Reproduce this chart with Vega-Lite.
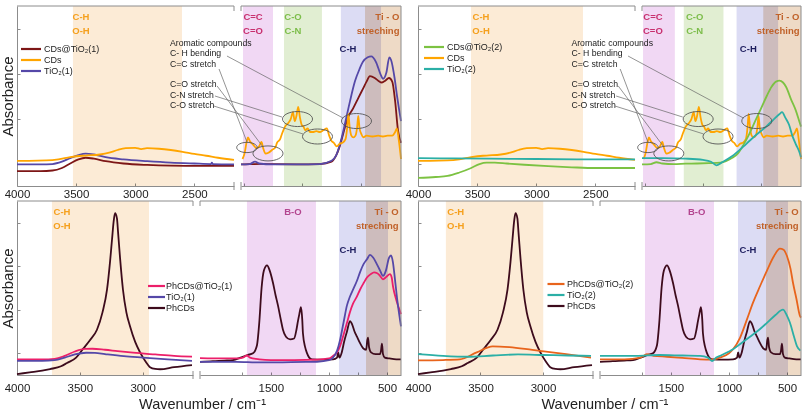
{
"$schema":"https://vega.github.io/schema/vega-lite/v6.json",
"background":"white",
"padding":{"left":0,"top":5,"right":0,"bottom":0},
"config":{"font":"Liberation Sans","view":{"stroke":null},
"axis":{"grid":false,"domainColor":"#8c8c8c","tickColor":"#8c8c8c","labelColor":"#222","labelFontSize":11.5,"titleColor":"#222","titleFontSize":15,"titleFontWeight":"normal"},
"legend":{"symbolType":"M-4,0H4","symbolSize":25,"symbolStrokeWidth":2.2,"labelFontSize":9,"labelColor":"#222","rowPadding":1,"padding":0}},
"datasets":{
"spectra":[
{"p":"TL","s":"CDs@TiO₂(1)","w":4000,"a":0.083},{"p":"TL","s":"CDs@TiO₂(1)","w":3800,"a":0.083},{"p":"TL","s":"CDs@TiO₂(1)","w":3700,"a":0.086},{"p":"TL","s":"CDs@TiO₂(1)","w":3620,"a":0.1},{"p":"TL","s":"CDs@TiO₂(1)","w":3550,"a":0.125},{"p":"TL","s":"CDs@TiO₂(1)","w":3480,"a":0.148},{"p":"TL","s":"CDs@TiO₂(1)","w":3420,"a":0.157},{"p":"TL","s":"CDs@TiO₂(1)","w":3350,"a":0.152},{"p":"TL","s":"CDs@TiO₂(1)","w":3250,"a":0.138},{"p":"TL","s":"CDs@TiO₂(1)","w":3100,"a":0.125},{"p":"TL","s":"CDs@TiO₂(1)","w":2900,"a":0.117},{"p":"TL","s":"CDs@TiO₂(1)","w":2700,"a":0.113},{"p":"TL","s":"CDs@TiO₂(1)","w":2500,"a":0.112},{"p":"TL","s":"CDs@TiO₂(1)","w":2300,"a":0.112},{"p":"TL","s":"CDs@TiO₂(1)","w":2165,"a":0.112},
{"p":"TL","s":"CDs@TiO₂(1)","w":1775,"a":0.12},{"p":"TL","s":"CDs@TiO₂(1)","w":1700,"a":0.121},{"p":"TL","s":"CDs@TiO₂(1)","w":1600,"a":0.123},{"p":"TL","s":"CDs@TiO₂(1)","w":1500,"a":0.121},{"p":"TL","s":"CDs@TiO₂(1)","w":1300,"a":0.12},{"p":"TL","s":"CDs@TiO₂(1)","w":1100,"a":0.122},{"p":"TL","s":"CDs@TiO₂(1)","w":1000,"a":0.135},{"p":"TL","s":"CDs@TiO₂(1)","w":960,"a":0.17},{"p":"TL","s":"CDs@TiO₂(1)","w":930,"a":0.22},{"p":"TL","s":"CDs@TiO₂(1)","w":900,"a":0.29},{"p":"TL","s":"CDs@TiO₂(1)","w":860,"a":0.38},{"p":"TL","s":"CDs@TiO₂(1)","w":816,"a":0.43},{"p":"TL","s":"CDs@TiO₂(1)","w":770,"a":0.49},{"p":"TL","s":"CDs@TiO₂(1)","w":731,"a":0.54},{"p":"TL","s":"CDs@TiO₂(1)","w":700,"a":0.58},{"p":"TL","s":"CDs@TiO₂(1)","w":671,"a":0.61},{"p":"TL","s":"CDs@TiO₂(1)","w":630,"a":0.6},{"p":"TL","s":"CDs@TiO₂(1)","w":600,"a":0.585},{"p":"TL","s":"CDs@TiO₂(1)","w":568,"a":0.575},{"p":"TL","s":"CDs@TiO₂(1)","w":540,"a":0.585},{"p":"TL","s":"CDs@TiO₂(1)","w":508,"a":0.6},{"p":"TL","s":"CDs@TiO₂(1)","w":480,"a":0.58},{"p":"TL","s":"CDs@TiO₂(1)","w":455,"a":0.47},{"p":"TL","s":"CDs@TiO₂(1)","w":431,"a":0.31},{"p":"TL","s":"CDs@TiO₂(1)","w":405,"a":0.24},
{"p":"TL","s":"TiO₂(1)","w":4000,"a":0.12},{"p":"TL","s":"TiO₂(1)","w":3800,"a":0.12},{"p":"TL","s":"TiO₂(1)","w":3700,"a":0.122},{"p":"TL","s":"TiO₂(1)","w":3620,"a":0.135},{"p":"TL","s":"TiO₂(1)","w":3550,"a":0.155},{"p":"TL","s":"TiO₂(1)","w":3480,"a":0.172},{"p":"TL","s":"TiO₂(1)","w":3420,"a":0.18},{"p":"TL","s":"TiO₂(1)","w":3350,"a":0.175},{"p":"TL","s":"TiO₂(1)","w":3250,"a":0.16},{"p":"TL","s":"TiO₂(1)","w":3100,"a":0.148},{"p":"TL","s":"TiO₂(1)","w":2900,"a":0.138},{"p":"TL","s":"TiO₂(1)","w":2700,"a":0.13},{"p":"TL","s":"TiO₂(1)","w":2500,"a":0.125},{"p":"TL","s":"TiO₂(1)","w":2360,"a":0.122},{"p":"TL","s":"TiO₂(1)","w":2352,"a":0.13},{"p":"TL","s":"TiO₂(1)","w":2344,"a":0.122},{"p":"TL","s":"TiO₂(1)","w":2165,"a":0.12},
{"p":"TL","s":"TiO₂(1)","w":1775,"a":0.12},{"p":"TL","s":"TiO₂(1)","w":1700,"a":0.122},{"p":"TL","s":"TiO₂(1)","w":1655,"a":0.135},{"p":"TL","s":"TiO₂(1)","w":1620,"a":0.125},{"p":"TL","s":"TiO₂(1)","w":1500,"a":0.12},{"p":"TL","s":"TiO₂(1)","w":1300,"a":0.12},{"p":"TL","s":"TiO₂(1)","w":1100,"a":0.122},{"p":"TL","s":"TiO₂(1)","w":1000,"a":0.14},{"p":"TL","s":"TiO₂(1)","w":960,"a":0.17},{"p":"TL","s":"TiO₂(1)","w":920,"a":0.25},{"p":"TL","s":"TiO₂(1)","w":880,"a":0.36},{"p":"TL","s":"TiO₂(1)","w":842,"a":0.47},{"p":"TL","s":"TiO₂(1)","w":800,"a":0.58},{"p":"TL","s":"TiO₂(1)","w":760,"a":0.65},{"p":"TL","s":"TiO₂(1)","w":731,"a":0.69},{"p":"TL","s":"TiO₂(1)","w":690,"a":0.715},{"p":"TL","s":"TiO₂(1)","w":660,"a":0.72},{"p":"TL","s":"TiO₂(1)","w":620,"a":0.69},{"p":"TL","s":"TiO₂(1)","w":580,"a":0.62},{"p":"TL","s":"TiO₂(1)","w":559,"a":0.595},{"p":"TL","s":"TiO₂(1)","w":530,"a":0.63},{"p":"TL","s":"TiO₂(1)","w":505,"a":0.715},{"p":"TL","s":"TiO₂(1)","w":490,"a":0.7},{"p":"TL","s":"TiO₂(1)","w":460,"a":0.6},{"p":"TL","s":"TiO₂(1)","w":439,"a":0.5},{"p":"TL","s":"TiO₂(1)","w":420,"a":0.42},{"p":"TL","s":"TiO₂(1)","w":405,"a":0.36},
{"p":"T","s":"CDs","w":4000,"a":0.14},{"p":"T","s":"CDs","w":3900,"a":0.14},{"p":"T","s":"CDs","w":3750,"a":0.142},{"p":"T","s":"CDs","w":3650,"a":0.148},{"p":"T","s":"CDs","w":3550,"a":0.16},{"p":"T","s":"CDs","w":3450,"a":0.168},{"p":"T","s":"CDs","w":3400,"a":0.17},{"p":"T","s":"CDs","w":3300,"a":0.175},{"p":"T","s":"CDs","w":3220,"a":0.185},{"p":"T","s":"CDs","w":3150,"a":0.2},{"p":"T","s":"CDs","w":3080,"a":0.21},{"p":"T","s":"CDs","w":3000,"a":0.212},{"p":"T","s":"CDs","w":2950,"a":0.205},{"p":"T","s":"CDs","w":2900,"a":0.21},{"p":"T","s":"CDs","w":2800,"a":0.207},{"p":"T","s":"CDs","w":2700,"a":0.2},{"p":"T","s":"CDs","w":2600,"a":0.19},{"p":"T","s":"CDs","w":2500,"a":0.178},{"p":"T","s":"CDs","w":2400,"a":0.168},{"p":"T","s":"CDs","w":2300,"a":0.157},{"p":"T","s":"CDs","w":2165,"a":0.145},
{"p":"T","s":"CDs","w":1762,"a":0.15},{"p":"T","s":"CDs","w":1745,"a":0.18},{"p":"T","s":"CDs","w":1725,"a":0.25},{"p":"T","s":"CDs","w":1715,"a":0.27},{"p":"T","s":"CDs","w":1700,"a":0.25},{"p":"T","s":"CDs","w":1672,"a":0.23},{"p":"T","s":"CDs","w":1640,"a":0.21},{"p":"T","s":"CDs","w":1620,"a":0.22},{"p":"T","s":"CDs","w":1600,"a":0.245},{"p":"T","s":"CDs","w":1585,"a":0.21},{"p":"T","s":"CDs","w":1565,"a":0.18},{"p":"T","s":"CDs","w":1540,"a":0.185},{"p":"T","s":"CDs","w":1510,"a":0.2},{"p":"T","s":"CDs","w":1480,"a":0.215},{"p":"T","s":"CDs","w":1467,"a":0.24},{"p":"T","s":"CDs","w":1440,"a":0.26},{"p":"T","s":"CDs","w":1424,"a":0.29},{"p":"T","s":"CDs","w":1398,"a":0.33},{"p":"T","s":"CDs","w":1370,"a":0.35},{"p":"T","s":"CDs","w":1350,"a":0.37},{"p":"T","s":"CDs","w":1330,"a":0.41},{"p":"T","s":"CDs","w":1315,"a":0.36},{"p":"T","s":"CDs","w":1300,"a":0.39},{"p":"T","s":"CDs","w":1285,"a":0.44},{"p":"T","s":"CDs","w":1270,"a":0.38},{"p":"T","s":"CDs","w":1255,"a":0.34},{"p":"T","s":"CDs","w":1240,"a":0.33},{"p":"T","s":"CDs","w":1225,"a":0.31},{"p":"T","s":"CDs","w":1205,"a":0.32},{"p":"T","s":"CDs","w":1185,"a":0.3},{"p":"T","s":"CDs","w":1160,"a":0.3},{"p":"T","s":"CDs","w":1130,"a":0.305},{"p":"T","s":"CDs","w":1100,"a":0.3},{"p":"T","s":"CDs","w":1070,"a":0.31},{"p":"T","s":"CDs","w":1040,"a":0.32},{"p":"T","s":"CDs","w":1020,"a":0.28},{"p":"T","s":"CDs","w":1000,"a":0.25},{"p":"T","s":"CDs","w":980,"a":0.24},{"p":"T","s":"CDs","w":955,"a":0.22},{"p":"T","s":"CDs","w":930,"a":0.235},{"p":"T","s":"CDs","w":905,"a":0.24},{"p":"T","s":"CDs","w":880,"a":0.26},{"p":"T","s":"CDs","w":865,"a":0.33},{"p":"T","s":"CDs","w":856,"a":0.4},{"p":"T","s":"CDs","w":845,"a":0.33},{"p":"T","s":"CDs","w":830,"a":0.28},{"p":"T","s":"CDs","w":813,"a":0.27},{"p":"T","s":"CDs","w":795,"a":0.28},{"p":"T","s":"CDs","w":780,"a":0.33},{"p":"T","s":"CDs","w":771,"a":0.39},{"p":"T","s":"CDs","w":760,"a":0.32},{"p":"T","s":"CDs","w":745,"a":0.29},{"p":"T","s":"CDs","w":728,"a":0.27},{"p":"T","s":"CDs","w":700,"a":0.28},{"p":"T","s":"CDs","w":650,"a":0.275},{"p":"T","s":"CDs","w":600,"a":0.28},{"p":"T","s":"CDs","w":560,"a":0.275},{"p":"T","s":"CDs","w":520,"a":0.28},{"p":"T","s":"CDs","w":480,"a":0.28},{"p":"T","s":"CDs","w":455,"a":0.3},{"p":"T","s":"CDs","w":440,"a":0.32},{"p":"T","s":"CDs","w":425,"a":0.26},{"p":"T","s":"CDs","w":410,"a":0.18},{"p":"T","s":"CDs","w":405,"a":0.15},
{"p":"TR","s":"CDs@TiO₂(2)","w":4000,"a":0.045},{"p":"TR","s":"CDs@TiO₂(2)","w":3850,"a":0.05},{"p":"TR","s":"CDs@TiO₂(2)","w":3750,"a":0.056},{"p":"TR","s":"CDs@TiO₂(2)","w":3650,"a":0.075},{"p":"TR","s":"CDs@TiO₂(2)","w":3550,"a":0.1},{"p":"TR","s":"CDs@TiO₂(2)","w":3480,"a":0.122},{"p":"TR","s":"CDs@TiO₂(2)","w":3420,"a":0.13},{"p":"TR","s":"CDs@TiO₂(2)","w":3350,"a":0.13},{"p":"TR","s":"CDs@TiO₂(2)","w":3250,"a":0.125},{"p":"TR","s":"CDs@TiO₂(2)","w":3100,"a":0.118},{"p":"TR","s":"CDs@TiO₂(2)","w":2900,"a":0.11},{"p":"TR","s":"CDs@TiO₂(2)","w":2700,"a":0.104},{"p":"TR","s":"CDs@TiO₂(2)","w":2500,"a":0.1},{"p":"TR","s":"CDs@TiO₂(2)","w":2300,"a":0.1},{"p":"TR","s":"CDs@TiO₂(2)","w":2165,"a":0.1},
{"p":"TR","s":"CDs@TiO₂(2)","w":1775,"a":0.12},{"p":"TR","s":"CDs@TiO₂(2)","w":1700,"a":0.122},{"p":"TR","s":"CDs@TiO₂(2)","w":1650,"a":0.132},{"p":"TR","s":"CDs@TiO₂(2)","w":1600,"a":0.125},{"p":"TR","s":"CDs@TiO₂(2)","w":1500,"a":0.122},{"p":"TR","s":"CDs@TiO₂(2)","w":1400,"a":0.124},{"p":"TR","s":"CDs@TiO₂(2)","w":1300,"a":0.125},{"p":"TR","s":"CDs@TiO₂(2)","w":1200,"a":0.127},{"p":"TR","s":"CDs@TiO₂(2)","w":1100,"a":0.13},{"p":"TR","s":"CDs@TiO₂(2)","w":1000,"a":0.155},{"p":"TR","s":"CDs@TiO₂(2)","w":950,"a":0.18},{"p":"TR","s":"CDs@TiO₂(2)","w":900,"a":0.23},{"p":"TR","s":"CDs@TiO₂(2)","w":850,"a":0.29},{"p":"TR","s":"CDs@TiO₂(2)","w":800,"a":0.36},{"p":"TR","s":"CDs@TiO₂(2)","w":750,"a":0.43},{"p":"TR","s":"CDs@TiO₂(2)","w":700,"a":0.5},{"p":"TR","s":"CDs@TiO₂(2)","w":660,"a":0.55},{"p":"TR","s":"CDs@TiO₂(2)","w":620,"a":0.58},{"p":"TR","s":"CDs@TiO₂(2)","w":590,"a":0.585},{"p":"TR","s":"CDs@TiO₂(2)","w":560,"a":0.575},{"p":"TR","s":"CDs@TiO₂(2)","w":533,"a":0.55},{"p":"TR","s":"CDs@TiO₂(2)","w":490,"a":0.48},{"p":"TR","s":"CDs@TiO₂(2)","w":450,"a":0.42},{"p":"TR","s":"CDs@TiO₂(2)","w":420,"a":0.36},{"p":"TR","s":"CDs@TiO₂(2)","w":405,"a":0.33},
{"p":"TR","s":"TiO₂(2)","w":4000,"a":0.155},{"p":"TR","s":"TiO₂(2)","w":3700,"a":0.153},{"p":"TR","s":"TiO₂(2)","w":3400,"a":0.152},{"p":"TR","s":"TiO₂(2)","w":3000,"a":0.15},{"p":"TR","s":"TiO₂(2)","w":2600,"a":0.148},{"p":"TR","s":"TiO₂(2)","w":2165,"a":0.148},
{"p":"TR","s":"TiO₂(2)","w":1775,"a":0.155},{"p":"TR","s":"TiO₂(2)","w":1600,"a":0.155},{"p":"TR","s":"TiO₂(2)","w":1400,"a":0.152},{"p":"TR","s":"TiO₂(2)","w":1250,"a":0.145},{"p":"TR","s":"TiO₂(2)","w":1180,"a":0.135},{"p":"TR","s":"TiO₂(2)","w":1133,"a":0.115},{"p":"TR","s":"TiO₂(2)","w":1090,"a":0.13},{"p":"TR","s":"TiO₂(2)","w":1000,"a":0.165},{"p":"TR","s":"TiO₂(2)","w":900,"a":0.22},{"p":"TR","s":"TiO₂(2)","w":850,"a":0.25},{"p":"TR","s":"TiO₂(2)","w":780,"a":0.29},{"p":"TR","s":"TiO₂(2)","w":705,"a":0.33},{"p":"TR","s":"TiO₂(2)","w":640,"a":0.37},{"p":"TR","s":"TiO₂(2)","w":590,"a":0.4},{"p":"TR","s":"TiO₂(2)","w":568,"a":0.41},{"p":"TR","s":"TiO₂(2)","w":540,"a":0.38},{"p":"TR","s":"TiO₂(2)","w":508,"a":0.34},{"p":"TR","s":"TiO₂(2)","w":480,"a":0.28},{"p":"TR","s":"TiO₂(2)","w":448,"a":0.23},{"p":"TR","s":"TiO₂(2)","w":420,"a":0.19},{"p":"TR","s":"TiO₂(2)","w":405,"a":0.16},
{"p":"B","s":"PhCDs","w":4000,"a":0.005},{"p":"B","s":"PhCDs","w":3900,"a":0.015},{"p":"B","s":"PhCDs","w":3800,"a":0.025},{"p":"B","s":"PhCDs","w":3737,"a":0.034},{"p":"B","s":"PhCDs","w":3650,"a":0.05},{"p":"B","s":"PhCDs","w":3602,"a":0.069},{"p":"B","s":"PhCDs","w":3530,"a":0.1},{"p":"B","s":"PhCDs","w":3475,"a":0.15},{"p":"B","s":"PhCDs","w":3420,"a":0.2},{"p":"B","s":"PhCDs","w":3364,"a":0.26},{"p":"B","s":"PhCDs","w":3320,"a":0.36},{"p":"B","s":"PhCDs","w":3284,"a":0.49},{"p":"B","s":"PhCDs","w":3260,"a":0.65},{"p":"B","s":"PhCDs","w":3244,"a":0.78},{"p":"B","s":"PhCDs","w":3230,"a":0.89},{"p":"B","s":"PhCDs","w":3220,"a":0.93},{"p":"B","s":"PhCDs","w":3205,"a":0.9},{"p":"B","s":"PhCDs","w":3196,"a":0.82},{"p":"B","s":"PhCDs","w":3180,"a":0.67},{"p":"B","s":"PhCDs","w":3157,"a":0.49},{"p":"B","s":"PhCDs","w":3130,"a":0.36},{"p":"B","s":"PhCDs","w":3101,"a":0.28},{"p":"B","s":"PhCDs","w":3060,"a":0.19},{"p":"B","s":"PhCDs","w":3021,"a":0.13},{"p":"B","s":"PhCDs","w":2980,"a":0.08},{"p":"B","s":"PhCDs","w":2942,"a":0.045},{"p":"B","s":"PhCDs","w":2900,"a":0.035},{"p":"B","s":"PhCDs","w":2862,"a":0.033},{"p":"B","s":"PhCDs","w":2750,"a":0.045},{"p":"B","s":"PhCDs","w":2608,"a":0.057},
{"p":"B","s":"PhCDs","w":2110,"a":0.075},{"p":"B","s":"PhCDs","w":2000,"a":0.08},{"p":"B","s":"PhCDs","w":1900,"a":0.083},{"p":"B","s":"PhCDs","w":1826,"a":0.086},{"p":"B","s":"PhCDs","w":1760,"a":0.1},{"p":"B","s":"PhCDs","w":1700,"a":0.115},{"p":"B","s":"PhCDs","w":1654,"a":0.125},{"p":"B","s":"PhCDs","w":1620,"a":0.17},{"p":"B","s":"PhCDs","w":1600,"a":0.3},{"p":"B","s":"PhCDs","w":1580,"a":0.5},{"p":"B","s":"PhCDs","w":1560,"a":0.6},{"p":"B","s":"PhCDs","w":1533,"a":0.63},{"p":"B","s":"PhCDs","w":1510,"a":0.6},{"p":"B","s":"PhCDs","w":1482,"a":0.53},{"p":"B","s":"PhCDs","w":1460,"a":0.46},{"p":"B","s":"PhCDs","w":1439,"a":0.4},{"p":"B","s":"PhCDs","w":1415,"a":0.32},{"p":"B","s":"PhCDs","w":1396,"a":0.26},{"p":"B","s":"PhCDs","w":1370,"a":0.22},{"p":"B","s":"PhCDs","w":1335,"a":0.205},{"p":"B","s":"PhCDs","w":1300,"a":0.21},{"p":"B","s":"PhCDs","w":1280,"a":0.26},{"p":"B","s":"PhCDs","w":1267,"a":0.31},{"p":"B","s":"PhCDs","w":1255,"a":0.35},{"p":"B","s":"PhCDs","w":1241,"a":0.39},{"p":"B","s":"PhCDs","w":1230,"a":0.32},{"p":"B","s":"PhCDs","w":1224,"a":0.24},{"p":"B","s":"PhCDs","w":1205,"a":0.16},{"p":"B","s":"PhCDs","w":1190,"a":0.127},{"p":"B","s":"PhCDs","w":1170,"a":0.1},{"p":"B","s":"PhCDs","w":1146,"a":0.09},{"p":"B","s":"PhCDs","w":1050,"a":0.088},{"p":"B","s":"PhCDs","w":965,"a":0.09},{"p":"B","s":"PhCDs","w":930,"a":0.1},{"p":"B","s":"PhCDs","w":921,"a":0.13},{"p":"B","s":"PhCDs","w":910,"a":0.1},{"p":"B","s":"PhCDs","w":890,"a":0.13},{"p":"B","s":"PhCDs","w":870,"a":0.19},{"p":"B","s":"PhCDs","w":845,"a":0.25},{"p":"B","s":"PhCDs","w":819,"a":0.31},{"p":"B","s":"PhCDs","w":800,"a":0.29},{"p":"B","s":"PhCDs","w":780,"a":0.25},{"p":"B","s":"PhCDs","w":759,"a":0.22},{"p":"B","s":"PhCDs","w":730,"a":0.18},{"p":"B","s":"PhCDs","w":707,"a":0.155},{"p":"B","s":"PhCDs","w":680,"a":0.145},{"p":"B","s":"PhCDs","w":670,"a":0.2},{"p":"B","s":"PhCDs","w":664,"a":0.215},{"p":"B","s":"PhCDs","w":655,"a":0.16},{"p":"B","s":"PhCDs","w":638,"a":0.13},{"p":"B","s":"PhCDs","w":600,"a":0.12},{"p":"B","s":"PhCDs","w":561,"a":0.12},{"p":"B","s":"PhCDs","w":552,"a":0.14},{"p":"B","s":"PhCDs","w":544,"a":0.18},{"p":"B","s":"PhCDs","w":535,"a":0.12},{"p":"B","s":"PhCDs","w":520,"a":0.1},{"p":"B","s":"PhCDs","w":480,"a":0.095},{"p":"B","s":"PhCDs","w":420,"a":0.09},{"p":"B","s":"PhCDs","w":380,"a":0.09},
{"p":"BL","s":"PhCDs@TiO₂(1)","w":4000,"a":0.09},{"p":"BL","s":"PhCDs@TiO₂(1)","w":3800,"a":0.09},{"p":"BL","s":"PhCDs@TiO₂(1)","w":3700,"a":0.093},{"p":"BL","s":"PhCDs@TiO₂(1)","w":3620,"a":0.11},{"p":"BL","s":"PhCDs@TiO₂(1)","w":3540,"a":0.135},{"p":"BL","s":"PhCDs@TiO₂(1)","w":3460,"a":0.15},{"p":"BL","s":"PhCDs@TiO₂(1)","w":3400,"a":0.151},{"p":"BL","s":"PhCDs@TiO₂(1)","w":3300,"a":0.145},{"p":"BL","s":"PhCDs@TiO₂(1)","w":3200,"a":0.137},{"p":"BL","s":"PhCDs@TiO₂(1)","w":3077,"a":0.128},{"p":"BL","s":"PhCDs@TiO₂(1)","w":2900,"a":0.118},{"p":"BL","s":"PhCDs@TiO₂(1)","w":2750,"a":0.11},{"p":"BL","s":"PhCDs@TiO₂(1)","w":2608,"a":0.105},
{"p":"BL","s":"PhCDs@TiO₂(1)","w":2110,"a":0.097},{"p":"BL","s":"PhCDs@TiO₂(1)","w":1900,"a":0.095},{"p":"BL","s":"PhCDs@TiO₂(1)","w":1800,"a":0.095},{"p":"BL","s":"PhCDs@TiO₂(1)","w":1740,"a":0.1},{"p":"BL","s":"PhCDs@TiO₂(1)","w":1706,"a":0.112},{"p":"BL","s":"PhCDs@TiO₂(1)","w":1680,"a":0.1},{"p":"BL","s":"PhCDs@TiO₂(1)","w":1600,"a":0.09},{"p":"BL","s":"PhCDs@TiO₂(1)","w":1500,"a":0.086},{"p":"BL","s":"PhCDs@TiO₂(1)","w":1300,"a":0.086},{"p":"BL","s":"PhCDs@TiO₂(1)","w":1103,"a":0.088},{"p":"BL","s":"PhCDs@TiO₂(1)","w":1000,"a":0.095},{"p":"BL","s":"PhCDs@TiO₂(1)","w":965,"a":0.11},{"p":"BL","s":"PhCDs@TiO₂(1)","w":930,"a":0.13},{"p":"BL","s":"PhCDs@TiO₂(1)","w":905,"a":0.166},{"p":"BL","s":"PhCDs@TiO₂(1)","w":875,"a":0.23},{"p":"BL","s":"PhCDs@TiO₂(1)","w":845,"a":0.3},{"p":"BL","s":"PhCDs@TiO₂(1)","w":820,"a":0.36},{"p":"BL","s":"PhCDs@TiO₂(1)","w":793,"a":0.41},{"p":"BL","s":"PhCDs@TiO₂(1)","w":760,"a":0.45},{"p":"BL","s":"PhCDs@TiO₂(1)","w":733,"a":0.49},{"p":"BL","s":"PhCDs@TiO₂(1)","w":700,"a":0.53},{"p":"BL","s":"PhCDs@TiO₂(1)","w":673,"a":0.56},{"p":"BL","s":"PhCDs@TiO₂(1)","w":640,"a":0.58},{"p":"BL","s":"PhCDs@TiO₂(1)","w":612,"a":0.59},{"p":"BL","s":"PhCDs@TiO₂(1)","w":585,"a":0.585},{"p":"BL","s":"PhCDs@TiO₂(1)","w":561,"a":0.57},{"p":"BL","s":"PhCDs@TiO₂(1)","w":535,"a":0.55},{"p":"BL","s":"PhCDs@TiO₂(1)","w":505,"a":0.565},{"p":"BL","s":"PhCDs@TiO₂(1)","w":475,"a":0.58},{"p":"BL","s":"PhCDs@TiO₂(1)","w":460,"a":0.56},{"p":"BL","s":"PhCDs@TiO₂(1)","w":449,"a":0.51},{"p":"BL","s":"PhCDs@TiO₂(1)","w":420,"a":0.43},{"p":"BL","s":"PhCDs@TiO₂(1)","w":380,"a":0.35},
{"p":"BL","s":"TiO₂(1)","w":4000,"a":0.081},{"p":"BL","s":"TiO₂(1)","w":3800,"a":0.081},{"p":"BL","s":"TiO₂(1)","w":3700,"a":0.085},{"p":"BL","s":"TiO₂(1)","w":3620,"a":0.1},{"p":"BL","s":"TiO₂(1)","w":3540,"a":0.118},{"p":"BL","s":"TiO₂(1)","w":3450,"a":0.128},{"p":"BL","s":"TiO₂(1)","w":3380,"a":0.127},{"p":"BL","s":"TiO₂(1)","w":3300,"a":0.12},{"p":"BL","s":"TiO₂(1)","w":3150,"a":0.108},{"p":"BL","s":"TiO₂(1)","w":3000,"a":0.1},{"p":"BL","s":"TiO₂(1)","w":2800,"a":0.09},{"p":"BL","s":"TiO₂(1)","w":2608,"a":0.081},
{"p":"BL","s":"TiO₂(1)","w":2110,"a":0.075},{"p":"BL","s":"TiO₂(1)","w":1800,"a":0.076},{"p":"BL","s":"TiO₂(1)","w":1600,"a":0.072},{"p":"BL","s":"TiO₂(1)","w":1400,"a":0.073},{"p":"BL","s":"TiO₂(1)","w":1200,"a":0.075},{"p":"BL","s":"TiO₂(1)","w":1103,"a":0.076},{"p":"BL","s":"TiO₂(1)","w":1000,"a":0.085},{"p":"BL","s":"TiO₂(1)","w":965,"a":0.1},{"p":"BL","s":"TiO₂(1)","w":930,"a":0.14},{"p":"BL","s":"TiO₂(1)","w":905,"a":0.2},{"p":"BL","s":"TiO₂(1)","w":875,"a":0.3},{"p":"BL","s":"TiO₂(1)","w":845,"a":0.4},{"p":"BL","s":"TiO₂(1)","w":820,"a":0.45},{"p":"BL","s":"TiO₂(1)","w":793,"a":0.49},{"p":"BL","s":"TiO₂(1)","w":760,"a":0.54},{"p":"BL","s":"TiO₂(1)","w":733,"a":0.59},{"p":"BL","s":"TiO₂(1)","w":700,"a":0.64},{"p":"BL","s":"TiO₂(1)","w":673,"a":0.665},{"p":"BL","s":"TiO₂(1)","w":647,"a":0.69},{"p":"BL","s":"TiO₂(1)","w":620,"a":0.675},{"p":"BL","s":"TiO₂(1)","w":587,"a":0.636},{"p":"BL","s":"TiO₂(1)","w":560,"a":0.6},{"p":"BL","s":"TiO₂(1)","w":535,"a":0.57},{"p":"BL","s":"TiO₂(1)","w":510,"a":0.6},{"p":"BL","s":"TiO₂(1)","w":485,"a":0.67},{"p":"BL","s":"TiO₂(1)","w":466,"a":0.688},{"p":"BL","s":"TiO₂(1)","w":450,"a":0.65},{"p":"BL","s":"TiO₂(1)","w":432,"a":0.55},{"p":"BL","s":"TiO₂(1)","w":410,"a":0.42},{"p":"BL","s":"TiO₂(1)","w":380,"a":0.28},
{"p":"BR","s":"PhCDs@TiO₂(2)","w":4000,"a":0.084},{"p":"BR","s":"PhCDs@TiO₂(2)","w":3800,"a":0.086},{"p":"BR","s":"PhCDs@TiO₂(2)","w":3666,"a":0.09},{"p":"BR","s":"PhCDs@TiO₂(2)","w":3530,"a":0.13},{"p":"BR","s":"PhCDs@TiO₂(2)","w":3403,"a":0.165},{"p":"BR","s":"PhCDs@TiO₂(2)","w":3268,"a":0.16},{"p":"BR","s":"PhCDs@TiO₂(2)","w":3085,"a":0.144},{"p":"BR","s":"PhCDs@TiO₂(2)","w":2815,"a":0.12},{"p":"BR","s":"PhCDs@TiO₂(2)","w":2616,"a":0.1},
{"p":"BR","s":"PhCDs@TiO₂(2)","w":2110,"a":0.09},{"p":"BR","s":"PhCDs@TiO₂(2)","w":1900,"a":0.09},{"p":"BR","s":"PhCDs@TiO₂(2)","w":1760,"a":0.1},{"p":"BR","s":"PhCDs@TiO₂(2)","w":1706,"a":0.12},{"p":"BR","s":"PhCDs@TiO₂(2)","w":1650,"a":0.11},{"p":"BR","s":"PhCDs@TiO₂(2)","w":1533,"a":0.105},{"p":"BR","s":"PhCDs@TiO₂(2)","w":1400,"a":0.098},{"p":"BR","s":"PhCDs@TiO₂(2)","w":1249,"a":0.09},{"p":"BR","s":"PhCDs@TiO₂(2)","w":1150,"a":0.088},{"p":"BR","s":"PhCDs@TiO₂(2)","w":1077,"a":0.1},{"p":"BR","s":"PhCDs@TiO₂(2)","w":1000,"a":0.125},{"p":"BR","s":"PhCDs@TiO₂(2)","w":965,"a":0.148},{"p":"BR","s":"PhCDs@TiO₂(2)","w":905,"a":0.214},{"p":"BR","s":"PhCDs@TiO₂(2)","w":845,"a":0.32},{"p":"BR","s":"PhCDs@TiO₂(2)","w":793,"a":0.416},{"p":"BR","s":"PhCDs@TiO₂(2)","w":733,"a":0.51},{"p":"BR","s":"PhCDs@TiO₂(2)","w":673,"a":0.6},{"p":"BR","s":"PhCDs@TiO₂(2)","w":612,"a":0.684},{"p":"BR","s":"PhCDs@TiO₂(2)","w":561,"a":0.726},{"p":"BR","s":"PhCDs@TiO₂(2)","w":530,"a":0.72},{"p":"BR","s":"PhCDs@TiO₂(2)","w":501,"a":0.684},{"p":"BR","s":"PhCDs@TiO₂(2)","w":470,"a":0.61},{"p":"BR","s":"PhCDs@TiO₂(2)","w":449,"a":0.53},{"p":"BR","s":"PhCDs@TiO₂(2)","w":420,"a":0.44},{"p":"BR","s":"PhCDs@TiO₂(2)","w":389,"a":0.34},{"p":"BR","s":"PhCDs@TiO₂(2)","w":380,"a":0.33},
{"p":"BR","s":"TiO₂(2)","w":4000,"a":0.12},{"p":"BR","s":"TiO₂(2)","w":3800,"a":0.11},{"p":"BR","s":"TiO₂(2)","w":3600,"a":0.105},{"p":"BR","s":"TiO₂(2)","w":3400,"a":0.112},{"p":"BR","s":"TiO₂(2)","w":3200,"a":0.118},{"p":"BR","s":"TiO₂(2)","w":3000,"a":0.115},{"p":"BR","s":"TiO₂(2)","w":2800,"a":0.112},{"p":"BR","s":"TiO₂(2)","w":2616,"a":0.11},
{"p":"BR","s":"TiO₂(2)","w":2110,"a":0.11},{"p":"BR","s":"TiO₂(2)","w":1800,"a":0.11},{"p":"BR","s":"TiO₂(2)","w":1600,"a":0.115},{"p":"BR","s":"TiO₂(2)","w":1400,"a":0.112},{"p":"BR","s":"TiO₂(2)","w":1249,"a":0.11},{"p":"BR","s":"TiO₂(2)","w":1180,"a":0.1},{"p":"BR","s":"TiO₂(2)","w":1146,"a":0.08},{"p":"BR","s":"TiO₂(2)","w":1110,"a":0.1},{"p":"BR","s":"TiO₂(2)","w":1077,"a":0.11},{"p":"BR","s":"TiO₂(2)","w":1000,"a":0.135},{"p":"BR","s":"TiO₂(2)","w":965,"a":0.148},{"p":"BR","s":"TiO₂(2)","w":900,"a":0.18},{"p":"BR","s":"TiO₂(2)","w":819,"a":0.22},{"p":"BR","s":"TiO₂(2)","w":740,"a":0.26},{"p":"BR","s":"TiO₂(2)","w":673,"a":0.3},{"p":"BR","s":"TiO₂(2)","w":600,"a":0.345},{"p":"BR","s":"TiO₂(2)","w":535,"a":0.376},{"p":"BR","s":"TiO₂(2)","w":500,"a":0.34},{"p":"BR","s":"TiO₂(2)","w":475,"a":0.3},{"p":"BR","s":"TiO₂(2)","w":440,"a":0.22},{"p":"BR","s":"TiO₂(2)","w":415,"a":0.166},{"p":"BR","s":"TiO₂(2)","w":385,"a":0.14}
],
"bands":[
{"p":"TL","k":"CHOH","x1":3527,"x2":2605},{"p":"TL","k":"CC","x1":1758,"x2":1501},{"p":"TL","k":"CO","x1":1407,"x2":1082},{"p":"TL","k":"CH","x1":920,"x2":576},{"p":"TL","k":"TiO","x1":713,"x2":405},
{"p":"TR","k":"CHOH","x1":3552,"x2":2605},{"p":"TR","k":"CC","x1":1766,"x2":1492},{"p":"TR","k":"CO","x1":1415,"x2":1073},{"p":"TR","k":"CH","x1":960,"x2":602},{"p":"TR","k":"TiO","x1":730,"x2":405},
{"p":"BL","k":"CHOH","x1":3722,"x2":2950},{"p":"BL","k":"BO","x1":1706,"x2":1112},{"p":"BL","k":"CH","x1":914,"x2":492},{"p":"BL","k":"TiO","x1":681,"x2":380},
{"p":"BR","k":"CHOH","x1":3777,"x2":2998},{"p":"BR","k":"BO","x1":1723,"x2":1129},{"p":"BR","k":"CH","x1":922,"x2":492},{"p":"BR","k":"TiO","x1":681,"x2":380}
],
"bandtext":[
{"p":"TL","k":"CHOH","t":"C-H\nO-H","w":3459,"v":0.925},{"p":"TL","k":"CC","t":"C=C\nC=O","w":1672,"v":0.925},{"p":"TL","k":"CO","t":"C-O\nC-N","w":1330,"v":0.925},{"p":"TL","k":"CH","t":"C-H","w":859,"v":0.747},{"p":"TL","k":"TiO","t":"Ti - O\nstreching","w":418,"v":0.925},
{"p":"TR","k":"CHOH","t":"C-H\nO-H","w":3467,"v":0.925},{"p":"TR","k":"CC","t":"C=C\nC=O","w":1681,"v":0.925},{"p":"TR","k":"CO","t":"C-O\nC-N","w":1321,"v":0.925},{"p":"TR","k":"CH","t":"C-H","w":859,"v":0.742},{"p":"TR","k":"TiO","t":"Ti - O\nstreching","w":418,"v":0.925},
{"p":"BL","k":"CHOH","t":"C-H\nO-H","w":3642,"v":0.917},{"p":"BL","k":"BO","t":"B-O","w":1310,"v":0.917},{"p":"BL","k":"CH","t":"C-H","w":836,"v":0.704},{"p":"BL","k":"TiO","t":"Ti - O\nstreching","w":400,"v":0.917},
{"p":"BR","k":"CHOH","t":"C-H\nO-H","w":3698,"v":0.917},{"p":"BR","k":"BO","t":"B-O","w":1278,"v":0.917},{"p":"BR","k":"CH","t":"C-H","w":836,"v":0.7},{"p":"BR","k":"TiO","t":"Ti - O\nstreching","w":400,"v":0.917}
],
"ell":[{"w":1724,"v":0.214,"z":"s"},{"w":1544,"v":0.181,"z":"b"},{"w":1291,"v":0.372,"z":"b"},{"w":1120,"v":0.275,"z":"b"},{"w":786,"v":0.361,"z":"b"}],
"cal":[{"x1":1895,"y1":0.722,"x2":902,"y2":0.378},{"x1":1963,"y1":0.65,"x2":1724,"y2":0.244},{"x1":1980,"y1":0.556,"x2":1587,"y2":0.217},{"x1":1998,"y1":0.5,"x2":1424,"y2":0.383},{"x1":2006,"y1":0.444,"x2":1244,"y2":0.289}],
"notes":[{"t":"Aromatic compounds\nC- H bending\nC=C stretch","w":2383,"v":0.778},{"t":"C=O stretch\nC-N stretch\nC-O stretch","w":2383,"v":0.55}]
},
"vconcat":[
{"hconcat":[
 {"hconcat":[
  {"width":217,"height":180,"layer":[
   {"data":{"name":"bands"},"transform":[{"filter":"datum.p=='TL'&&datum.k=='CHOH'"}],"mark":{"type":"rect","blend":"multiply"},"encoding":{"x":{"field":"x1","type":"quantitative"},"x2":{"field":"x2"},"y":{"value":0},"y2":{"value":"height"},"fill":{"field":"k","type":"nominal","scale":{"domain":["CHOH","CC","CO","CH","TiO","BO"],"range":["#fcebd6","#f1d8f4","#e1eed2","#dcdcf4","#eedac6","#f1d8f4"]},"legend":null}}},
   {"data":{"name":"bandtext"},"transform":[{"filter":"datum.p=='TL'&&datum.k=='CHOH'"}],"mark":{"type":"text","fontWeight":"bold","fontSize":9.5,"lineBreak":"\n","lineHeight":14,"align":"center","baseline":"alphabetic","color":"#f5a01e"},"encoding":{"x":{"field":"w","type":"quantitative"},"y":{"field":"v","type":"quantitative"},"text":{"field":"t"}}},
   {"data":{"name":"spectra"},"transform":[{"filter":"(datum.p=='TL'||datum.p=='T')&&datum.w>=2165"}],"mark":{"type":"line","strokeWidth":1.8,"interpolate":"monotone"},"encoding":{
     "x":{"field":"w","type":"quantitative","scale":{"domain":[4000,2165],"nice":false,"zero":false},"axis":{"values":[4000,3750,3500,3250,3000,2750,2500,2250],"labelExpr":"datum.value % 500 == 0 ? datum.label : ''","format":"d","tickSize":-3,"labelPadding":5,"title":null,"labelFlush":false,"labelOverlap":false}},
     "y":{"field":"a","type":"quantitative","scale":{"domain":[0,1],"nice":false,"zero":false},"axis":{"values":[0.125,0.25,0.375,0.5,0.625,0.75,0.875],"labels":false,"tickSize":-3,"title":"Absorbance","titlePadding":1}},
     "stroke":{"field":"s","type":"nominal","scale":{"domain":["CDs@TiO₂(1)","CDs","TiO₂(1)"],"range":["#7d1616","#ffa500","#5548a8"]},"legend":{"orient":"none","legendX":9.5,"legendY":38.5,"title":null,"labelOffset":8.5}}}},
   {"data":{"values":[{}]},"mark":{"type":"rule","color":"#8c8c8c"},"encoding":{"x":{"value":0},"x2":{"value":"width"},"y":{"value":0}}},
   {"data":{"values":[{}]},"mark":{"type":"rule","color":"#8c8c8c","yOffset":-4,"y2Offset":4},"encoding":{"x":{"value":"width"},"y":{"value":"height"},"y2":{"value":"height"}}},
   {"data":{"values":[{}]},"mark":{"type":"rule","color":"#8c8c8c","y2Offset":5},"encoding":{"x":{"value":"width"},"y":{"value":0},"y2":{"value":0}}}
  ]},
  {"width":160,"height":180,"layer":[
   {"data":{"name":"bands"},"transform":[{"filter":"datum.p=='TL'&&datum.k!='CHOH'"}],"mark":{"type":"rect","blend":"multiply"},"encoding":{"x":{"field":"x1","type":"quantitative"},"x2":{"field":"x2"},"y":{"value":0},"y2":{"value":"height"},"fill":{"field":"k","type":"nominal","scale":{"domain":["CHOH","CC","CO","CH","TiO","BO"],"range":["#fcebd6","#f1d8f4","#e1eed2","#dcdcf4","#eedac6","#f1d8f4"]},"legend":null}}},
   {"data":{"name":"spectra"},"transform":[{"filter":"(datum.p=='TL'||datum.p=='T')&&datum.w<=1775"}],"mark":{"type":"line","strokeWidth":1.8,"interpolate":"monotone"},"encoding":{
     "x":{"field":"w","type":"quantitative","scale":{"domain":[1775,405],"nice":false,"zero":false},"axis":{"values":[1750,1500,1250,1000,750,500],"labelExpr":"datum.value % 500 == 0 ? datum.label : ''","format":"d","tickSize":-3,"labelPadding":5,"title":null,"labelFlush":false,"labelOverlap":false}},
     "y":{"field":"a","type":"quantitative","scale":{"domain":[0,1],"nice":false,"zero":false},"axis":null},
     "stroke":{"field":"s","type":"nominal","scale":{"domain":["CDs@TiO₂(1)","CDs","TiO₂(1)"],"range":["#7d1616","#ffa500","#5548a8"]},"legend":null}}},
   {"data":{"name":"bandtext"},"transform":[{"filter":"datum.p=='TL'&&datum.k=='CC'"}],"mark":{"type":"text","fontWeight":"bold","fontSize":9.5,"lineBreak":"\n","lineHeight":14,"align":"center","baseline":"alphabetic","color":"#c8306e"},"encoding":{"x":{"field":"w","type":"quantitative"},"y":{"field":"v","type":"quantitative"},"text":{"field":"t"}}},
   {"data":{"name":"bandtext"},"transform":[{"filter":"datum.p=='TL'&&datum.k=='CO'"}],"mark":{"type":"text","fontWeight":"bold","fontSize":9.5,"lineBreak":"\n","lineHeight":14,"align":"center","baseline":"alphabetic","color":"#7cbd4a"},"encoding":{"x":{"field":"w","type":"quantitative"},"y":{"field":"v","type":"quantitative"},"text":{"field":"t"}}},
   {"data":{"name":"bandtext"},"transform":[{"filter":"datum.p=='TL'&&datum.k=='CH'"}],"mark":{"type":"text","fontWeight":"bold","fontSize":9.5,"align":"center","baseline":"alphabetic","color":"#1d1d5e"},"encoding":{"x":{"field":"w","type":"quantitative"},"y":{"field":"v","type":"quantitative"},"text":{"field":"t"}}},
   {"data":{"name":"bandtext"},"transform":[{"filter":"datum.p=='TL'&&datum.k=='TiO'"}],"mark":{"type":"text","fontWeight":"bold","fontSize":9.5,"lineBreak":"\n","lineHeight":14,"align":"right","baseline":"alphabetic","color":"#c0622a"},"encoding":{"x":{"field":"w","type":"quantitative"},"y":{"field":"v","type":"quantitative"},"text":{"field":"t"}}},
   {"data":{"name":"cal"},"mark":{"type":"rule","stroke":"#666","strokeWidth":0.7},"encoding":{"x":{"field":"x1","type":"quantitative"},"x2":{"field":"x2"},"y":{"field":"y1","type":"quantitative"},"y2":{"field":"y2"}}},
   {"data":{"name":"ell"},"transform":[{"filter":"datum.z=='b'"}],"mark":{"type":"point","shape":"M-1,0A1,0.5,0,1,0,1,0A1,0.5,0,1,0,-1,0Z","size":900,"filled":false,"stroke":"#555","strokeWidth":0.9,"opacity":1},"encoding":{"x":{"field":"w","type":"quantitative"},"y":{"field":"v","type":"quantitative"}}},
   {"data":{"name":"ell"},"transform":[{"filter":"datum.z=='s'"}],"mark":{"type":"point","shape":"M-1,0A1,0.5,0,1,0,1,0A1,0.5,0,1,0,-1,0Z","size":420,"filled":false,"stroke":"#555","strokeWidth":0.9,"opacity":1},"encoding":{"x":{"field":"w","type":"quantitative"},"y":{"field":"v","type":"quantitative"}}},
   {"data":{"name":"notes"},"mark":{"type":"text","align":"left","baseline":"alphabetic","fontSize":8.7,"lineBreak":"\n","lineHeight":10.5,"color":"#222"},"encoding":{"x":{"field":"w","type":"quantitative"},"y":{"field":"v","type":"quantitative"},"text":{"field":"t"}}},
   {"data":{"values":[{}]},"mark":{"type":"rule","color":"#8c8c8c"},"encoding":{"x":{"value":0},"x2":{"value":"width"},"y":{"value":0}}},
   {"data":{"values":[{}]},"mark":{"type":"rule","color":"#8c8c8c"},"encoding":{"x":{"value":"width"},"y":{"value":0},"y2":{"value":"height"}}},
   {"data":{"values":[{}]},"mark":{"type":"rule","color":"#8c8c8c","yOffset":-4,"y2Offset":4},"encoding":{"x":{"value":0},"y":{"value":"height"},"y2":{"value":"height"}}},
   {"data":{"values":[{}]},"mark":{"type":"rule","color":"#8c8c8c","y2Offset":5},"encoding":{"x":{"value":0},"y":{"value":0},"y2":{"value":0}}}
  ]}
 ],"spacing":7,"bounds":"flush","resolve":{"scale":{"stroke":"independent"}}},
 {"hconcat":[
  {"width":217,"height":180,"layer":[
   {"data":{"name":"bands"},"transform":[{"filter":"datum.p=='TR'&&datum.k=='CHOH'"}],"mark":{"type":"rect","blend":"multiply"},"encoding":{"x":{"field":"x1","type":"quantitative"},"x2":{"field":"x2"},"y":{"value":0},"y2":{"value":"height"},"fill":{"field":"k","type":"nominal","scale":{"domain":["CHOH","CC","CO","CH","TiO","BO"],"range":["#fcebd6","#f1d8f4","#e1eed2","#dcdcf4","#eedac6","#f1d8f4"]},"legend":null}}},
   {"data":{"name":"bandtext"},"transform":[{"filter":"datum.p=='TR'&&datum.k=='CHOH'"}],"mark":{"type":"text","fontWeight":"bold","fontSize":9.5,"lineBreak":"\n","lineHeight":14,"align":"center","baseline":"alphabetic","color":"#f5a01e"},"encoding":{"x":{"field":"w","type":"quantitative"},"y":{"field":"v","type":"quantitative"},"text":{"field":"t"}}},
   {"data":{"name":"spectra"},"transform":[{"filter":"(datum.p=='TR'||datum.p=='T')&&datum.w>=2165"}],"mark":{"type":"line","strokeWidth":1.8,"interpolate":"monotone"},"encoding":{
     "x":{"field":"w","type":"quantitative","scale":{"domain":[4000,2165],"nice":false,"zero":false},"axis":{"values":[4000,3750,3500,3250,3000,2750,2500,2250],"labelExpr":"datum.value % 500 == 0 ? datum.label : ''","format":"d","tickSize":-3,"labelPadding":5,"title":null,"labelFlush":false,"labelOverlap":false}},
     "y":{"field":"a","type":"quantitative","scale":{"domain":[0,1],"nice":false,"zero":false},"axis":{"values":[0.125,0.25,0.375,0.5,0.625,0.75,0.875],"labels":false,"tickSize":-3,"title":null}},
     "stroke":{"field":"s","type":"nominal","scale":{"domain":["CDs@TiO₂(2)","CDs","TiO₂(2)"],"range":["#7cc242","#ffa500","#2bafa6"]},"legend":{"orient":"none","legendX":11.5,"legendY":36.5,"title":null,"labelOffset":8.5}}}},
   {"data":{"values":[{}]},"mark":{"type":"rule","color":"#8c8c8c"},"encoding":{"x":{"value":0},"x2":{"value":"width"},"y":{"value":0}}},
   {"data":{"values":[{}]},"mark":{"type":"rule","color":"#8c8c8c","yOffset":-4,"y2Offset":4},"encoding":{"x":{"value":"width"},"y":{"value":"height"},"y2":{"value":"height"}}},
   {"data":{"values":[{}]},"mark":{"type":"rule","color":"#8c8c8c","y2Offset":5},"encoding":{"x":{"value":"width"},"y":{"value":0},"y2":{"value":0}}}
  ]},
  {"width":159,"height":180,"layer":[
   {"data":{"name":"bands"},"transform":[{"filter":"datum.p=='TR'&&datum.k!='CHOH'"}],"mark":{"type":"rect","blend":"multiply"},"encoding":{"x":{"field":"x1","type":"quantitative"},"x2":{"field":"x2"},"y":{"value":0},"y2":{"value":"height"},"fill":{"field":"k","type":"nominal","scale":{"domain":["CHOH","CC","CO","CH","TiO","BO"],"range":["#fcebd6","#f1d8f4","#e1eed2","#dcdcf4","#eedac6","#f1d8f4"]},"legend":null}}},
   {"data":{"name":"spectra"},"transform":[{"filter":"(datum.p=='TR'||datum.p=='T')&&datum.w<=1775"}],"mark":{"type":"line","strokeWidth":1.8,"interpolate":"monotone"},"encoding":{
     "x":{"field":"w","type":"quantitative","scale":{"domain":[1775,405],"nice":false,"zero":false},"axis":{"values":[1750,1500,1250,1000,750,500],"labelExpr":"datum.value % 500 == 0 ? datum.label : ''","format":"d","tickSize":-3,"labelPadding":5,"title":null,"labelFlush":false,"labelOverlap":false}},
     "y":{"field":"a","type":"quantitative","scale":{"domain":[0,1],"nice":false,"zero":false},"axis":null},
     "stroke":{"field":"s","type":"nominal","scale":{"domain":["CDs@TiO₂(2)","CDs","TiO₂(2)"],"range":["#7cc242","#ffa500","#2bafa6"]},"legend":null}}},
   {"data":{"name":"bandtext"},"transform":[{"filter":"datum.p=='TR'&&datum.k=='CC'"}],"mark":{"type":"text","fontWeight":"bold","fontSize":9.5,"lineBreak":"\n","lineHeight":14,"align":"center","baseline":"alphabetic","color":"#c8306e"},"encoding":{"x":{"field":"w","type":"quantitative"},"y":{"field":"v","type":"quantitative"},"text":{"field":"t"}}},
   {"data":{"name":"bandtext"},"transform":[{"filter":"datum.p=='TR'&&datum.k=='CO'"}],"mark":{"type":"text","fontWeight":"bold","fontSize":9.5,"lineBreak":"\n","lineHeight":14,"align":"center","baseline":"alphabetic","color":"#7cbd4a"},"encoding":{"x":{"field":"w","type":"quantitative"},"y":{"field":"v","type":"quantitative"},"text":{"field":"t"}}},
   {"data":{"name":"bandtext"},"transform":[{"filter":"datum.p=='TR'&&datum.k=='CH'"}],"mark":{"type":"text","fontWeight":"bold","fontSize":9.5,"align":"center","baseline":"alphabetic","color":"#1d1d5e"},"encoding":{"x":{"field":"w","type":"quantitative"},"y":{"field":"v","type":"quantitative"},"text":{"field":"t"}}},
   {"data":{"name":"bandtext"},"transform":[{"filter":"datum.p=='TR'&&datum.k=='TiO'"}],"mark":{"type":"text","fontWeight":"bold","fontSize":9.5,"lineBreak":"\n","lineHeight":14,"align":"right","baseline":"alphabetic","color":"#c0622a"},"encoding":{"x":{"field":"w","type":"quantitative"},"y":{"field":"v","type":"quantitative"},"text":{"field":"t"}}},
   {"data":{"name":"cal"},"mark":{"type":"rule","stroke":"#666","strokeWidth":0.7},"encoding":{"x":{"field":"x1","type":"quantitative"},"x2":{"field":"x2"},"y":{"field":"y1","type":"quantitative"},"y2":{"field":"y2"}}},
   {"data":{"name":"ell"},"transform":[{"filter":"datum.z=='b'"}],"mark":{"type":"point","shape":"M-1,0A1,0.5,0,1,0,1,0A1,0.5,0,1,0,-1,0Z","size":900,"filled":false,"stroke":"#555","strokeWidth":0.9,"opacity":1},"encoding":{"x":{"field":"w","type":"quantitative"},"y":{"field":"v","type":"quantitative"}}},
   {"data":{"name":"ell"},"transform":[{"filter":"datum.z=='s'"}],"mark":{"type":"point","shape":"M-1,0A1,0.5,0,1,0,1,0A1,0.5,0,1,0,-1,0Z","size":420,"filled":false,"stroke":"#555","strokeWidth":0.9,"opacity":1},"encoding":{"x":{"field":"w","type":"quantitative"},"y":{"field":"v","type":"quantitative"}}},
   {"data":{"name":"notes"},"mark":{"type":"text","align":"left","baseline":"alphabetic","fontSize":8.7,"lineBreak":"\n","lineHeight":10.5,"color":"#222"},"encoding":{"x":{"field":"w","type":"quantitative"},"y":{"field":"v","type":"quantitative"},"text":{"field":"t"}}},
   {"data":{"values":[{}]},"mark":{"type":"rule","color":"#8c8c8c"},"encoding":{"x":{"value":0},"x2":{"value":"width"},"y":{"value":0}}},
   {"data":{"values":[{}]},"mark":{"type":"rule","color":"#8c8c8c"},"encoding":{"x":{"value":"width"},"y":{"value":0},"y2":{"value":"height"}}},
   {"data":{"values":[{}]},"mark":{"type":"rule","color":"#8c8c8c","yOffset":-4,"y2Offset":4},"encoding":{"x":{"value":0},"y":{"value":"height"},"y2":{"value":"height"}}},
   {"data":{"values":[{}]},"mark":{"type":"rule","color":"#8c8c8c","y2Offset":5},"encoding":{"x":{"value":0},"y":{"value":0},"y2":{"value":0}}}
  ]}
 ],"spacing":7,"bounds":"flush","resolve":{"scale":{"stroke":"independent"}}}
],"spacing":0,"resolve":{"scale":{"stroke":"independent"}}},
{"hconcat":[
 {"title":{"text":"Wavenumber / cm⁻¹","orient":"bottom","anchor":"middle","fontSize":14.5,"fontWeight":"normal","color":"#222","offset":4},
  "hconcat":[
  {"width":176,"height":174,"layer":[
   {"data":{"name":"bands"},"transform":[{"filter":"datum.p=='BL'&&datum.k=='CHOH'"}],"mark":{"type":"rect","blend":"multiply"},"encoding":{"x":{"field":"x1","type":"quantitative"},"x2":{"field":"x2"},"y":{"value":0},"y2":{"value":"height"},"fill":{"field":"k","type":"nominal","scale":{"domain":["CHOH","CC","CO","CH","TiO","BO"],"range":["#fcebd6","#f1d8f4","#e1eed2","#dcdcf4","#eedac6","#f1d8f4"]},"legend":null}}},
   {"data":{"name":"bandtext"},"transform":[{"filter":"datum.p=='BL'&&datum.k=='CHOH'"}],"mark":{"type":"text","fontWeight":"bold","fontSize":9.5,"lineBreak":"\n","lineHeight":14,"align":"center","baseline":"alphabetic","color":"#f5a01e"},"encoding":{"x":{"field":"w","type":"quantitative"},"y":{"field":"v","type":"quantitative"},"text":{"field":"t"}}},
   {"data":{"name":"spectra"},"transform":[{"filter":"(datum.p=='BL'||datum.p=='B')&&datum.w>=2600"}],"mark":{"type":"line","strokeWidth":1.8,"interpolate":"monotone"},"encoding":{
     "x":{"field":"w","type":"quantitative","scale":{"domain":[4000,2600],"nice":false,"zero":false},"axis":{"values":[4000,3750,3500,3250,3000,2750],"labelExpr":"datum.value % 500 == 0 ? datum.label : ''","format":"d","tickSize":-3,"labelPadding":10,"title":null,"labelFlush":false,"labelOverlap":false}},
     "y":{"field":"a","type":"quantitative","scale":{"domain":[0,1],"nice":false,"zero":false},"axis":{"values":[0.125,0.25,0.375,0.5,0.625,0.75,0.875],"labels":false,"tickSize":-3,"title":"Absorbance","titlePadding":1}},
     "stroke":{"field":"s","type":"nominal","scale":{"domain":["PhCDs@TiO₂(1)","TiO₂(1)","PhCDs"],"range":["#ec1f6a","#5548a8","#3d0b1c"]},"legend":{"orient":"none","legendX":135,"legendY":80.5,"title":null,"labelOffset":5,"symbolType":"M-3.4,0H3.4"}}}},
   {"data":{"values":[{}]},"mark":{"type":"rule","color":"#8c8c8c"},"encoding":{"x":{"value":0},"x2":{"value":"width"},"y":{"value":0}}},
   {"data":{"values":[{}]},"mark":{"type":"rule","color":"#8c8c8c","yOffset":-4,"y2Offset":4},"encoding":{"x":{"value":"width"},"y":{"value":"height"},"y2":{"value":"height"}}},
   {"data":{"values":[{}]},"mark":{"type":"rule","color":"#8c8c8c","y2Offset":5},"encoding":{"x":{"value":"width"},"y":{"value":0},"y2":{"value":0}}}
  ]},
  {"width":201,"height":174,"layer":[
   {"data":{"name":"bands"},"transform":[{"filter":"datum.p=='BL'&&datum.k!='CHOH'"}],"mark":{"type":"rect","blend":"multiply"},"encoding":{"x":{"field":"x1","type":"quantitative"},"x2":{"field":"x2"},"y":{"value":0},"y2":{"value":"height"},"fill":{"field":"k","type":"nominal","scale":{"domain":["CHOH","CC","CO","CH","TiO","BO"],"range":["#fcebd6","#f1d8f4","#e1eed2","#dcdcf4","#eedac6","#f1d8f4"]},"legend":null}}},
   {"data":{"name":"spectra"},"transform":[{"filter":"(datum.p=='BL'||datum.p=='B')&&datum.w<=2110"}],"mark":{"type":"line","strokeWidth":1.8,"interpolate":"monotone"},"encoding":{
     "x":{"field":"w","type":"quantitative","scale":{"domain":[2110,380],"nice":false,"zero":false},"axis":{"values":[1750,1500,1250,1000,750,500],"labelExpr":"datum.value % 500 == 0 ? datum.label : ''","format":"d","tickSize":-3,"labelPadding":10,"title":null,"labelFlush":false,"labelOverlap":false}},
     "y":{"field":"a","type":"quantitative","scale":{"domain":[0,1],"nice":false,"zero":false},"axis":null},
     "stroke":{"field":"s","type":"nominal","scale":{"domain":["PhCDs@TiO₂(1)","TiO₂(1)","PhCDs"],"range":["#ec1f6a","#5548a8","#3d0b1c"]},"legend":null}}},
   {"data":{"name":"bandtext"},"transform":[{"filter":"datum.p=='BL'&&datum.k=='BO'"}],"mark":{"type":"text","fontWeight":"bold","fontSize":9.5,"align":"center","baseline":"alphabetic","color":"#b3458f"},"encoding":{"x":{"field":"w","type":"quantitative"},"y":{"field":"v","type":"quantitative"},"text":{"field":"t"}}},
   {"data":{"name":"bandtext"},"transform":[{"filter":"datum.p=='BL'&&datum.k=='CH'"}],"mark":{"type":"text","fontWeight":"bold","fontSize":9.5,"align":"center","baseline":"alphabetic","color":"#1d1d5e"},"encoding":{"x":{"field":"w","type":"quantitative"},"y":{"field":"v","type":"quantitative"},"text":{"field":"t"}}},
   {"data":{"name":"bandtext"},"transform":[{"filter":"datum.p=='BL'&&datum.k=='TiO'"}],"mark":{"type":"text","fontWeight":"bold","fontSize":9.5,"lineBreak":"\n","lineHeight":14,"align":"right","baseline":"alphabetic","color":"#c0622a"},"encoding":{"x":{"field":"w","type":"quantitative"},"y":{"field":"v","type":"quantitative"},"text":{"field":"t"}}},
   {"data":{"values":[{}]},"mark":{"type":"rule","color":"#8c8c8c"},"encoding":{"x":{"value":0},"x2":{"value":"width"},"y":{"value":0}}},
   {"data":{"values":[{}]},"mark":{"type":"rule","color":"#8c8c8c"},"encoding":{"x":{"value":"width"},"y":{"value":0},"y2":{"value":"height"}}},
   {"data":{"values":[{}]},"mark":{"type":"rule","color":"#8c8c8c","yOffset":-4,"y2Offset":4},"encoding":{"x":{"value":0},"y":{"value":"height"},"y2":{"value":"height"}}},
   {"data":{"values":[{}]},"mark":{"type":"rule","color":"#8c8c8c","y2Offset":5},"encoding":{"x":{"value":0},"y":{"value":0},"y2":{"value":0}}}
  ]}
 ],"spacing":7,"bounds":"flush","resolve":{"scale":{"stroke":"independent"}}},
 {"title":{"text":"Wavenumber / cm⁻¹","orient":"bottom","anchor":"middle","fontSize":14.5,"fontWeight":"normal","color":"#222","offset":4},
  "hconcat":[
  {"width":175,"height":174,"layer":[
   {"data":{"name":"bands"},"transform":[{"filter":"datum.p=='BR'&&datum.k=='CHOH'"}],"mark":{"type":"rect","blend":"multiply"},"encoding":{"x":{"field":"x1","type":"quantitative"},"x2":{"field":"x2"},"y":{"value":0},"y2":{"value":"height"},"fill":{"field":"k","type":"nominal","scale":{"domain":["CHOH","CC","CO","CH","TiO","BO"],"range":["#fcebd6","#f1d8f4","#e1eed2","#dcdcf4","#eedac6","#f1d8f4"]},"legend":null}}},
   {"data":{"name":"bandtext"},"transform":[{"filter":"datum.p=='BR'&&datum.k=='CHOH'"}],"mark":{"type":"text","fontWeight":"bold","fontSize":9.5,"lineBreak":"\n","lineHeight":14,"align":"center","baseline":"alphabetic","color":"#f5a01e"},"encoding":{"x":{"field":"w","type":"quantitative"},"y":{"field":"v","type":"quantitative"},"text":{"field":"t"}}},
   {"data":{"name":"spectra"},"transform":[{"filter":"(datum.p=='BR'||datum.p=='B')&&datum.w>=2600"}],"mark":{"type":"line","strokeWidth":1.8,"interpolate":"monotone"},"encoding":{
     "x":{"field":"w","type":"quantitative","scale":{"domain":[4000,2600],"nice":false,"zero":false},"axis":{"values":[4000,3750,3500,3250,3000,2750],"labelExpr":"datum.value % 500 == 0 ? datum.label : ''","format":"d","tickSize":-3,"labelPadding":10,"title":null,"labelFlush":false,"labelOverlap":false}},
     "y":{"field":"a","type":"quantitative","scale":{"domain":[0,1],"nice":false,"zero":false},"axis":{"values":[0.125,0.25,0.375,0.5,0.625,0.75,0.875],"labels":false,"tickSize":-3,"title":null}},
     "stroke":{"field":"s","type":"nominal","scale":{"domain":["PhCDs@TiO₂(2)","TiO₂(2)","PhCDs"],"range":["#e8641c","#2bafa6","#3d0b1c"]},"legend":{"orient":"none","legendX":133.5,"legendY":78.5,"title":null,"labelOffset":6.5,"symbolType":"M-3.4,0H3.4"}}}},
   {"data":{"values":[{}]},"mark":{"type":"rule","color":"#8c8c8c"},"encoding":{"x":{"value":0},"x2":{"value":"width"},"y":{"value":0}}},
   {"data":{"values":[{}]},"mark":{"type":"rule","color":"#8c8c8c","yOffset":-4,"y2Offset":4},"encoding":{"x":{"value":"width"},"y":{"value":"height"},"y2":{"value":"height"}}},
   {"data":{"values":[{}]},"mark":{"type":"rule","color":"#8c8c8c","y2Offset":5},"encoding":{"x":{"value":"width"},"y":{"value":0},"y2":{"value":0}}}
  ]},
  {"width":201,"height":174,"layer":[
   {"data":{"name":"bands"},"transform":[{"filter":"datum.p=='BR'&&datum.k!='CHOH'"}],"mark":{"type":"rect","blend":"multiply"},"encoding":{"x":{"field":"x1","type":"quantitative"},"x2":{"field":"x2"},"y":{"value":0},"y2":{"value":"height"},"fill":{"field":"k","type":"nominal","scale":{"domain":["CHOH","CC","CO","CH","TiO","BO"],"range":["#fcebd6","#f1d8f4","#e1eed2","#dcdcf4","#eedac6","#f1d8f4"]},"legend":null}}},
   {"data":{"name":"spectra"},"transform":[{"filter":"(datum.p=='BR'||datum.p=='B')&&datum.w<=2110"}],"mark":{"type":"line","strokeWidth":1.8,"interpolate":"monotone"},"encoding":{
     "x":{"field":"w","type":"quantitative","scale":{"domain":[2110,380],"nice":false,"zero":false},"axis":{"values":[1750,1500,1250,1000,750,500],"labelExpr":"datum.value % 500 == 0 ? datum.label : ''","format":"d","tickSize":-3,"labelPadding":10,"title":null,"labelFlush":false,"labelOverlap":false}},
     "y":{"field":"a","type":"quantitative","scale":{"domain":[0,1],"nice":false,"zero":false},"axis":null},
     "stroke":{"field":"s","type":"nominal","scale":{"domain":["PhCDs@TiO₂(2)","TiO₂(2)","PhCDs"],"range":["#e8641c","#2bafa6","#3d0b1c"]},"legend":null}}},
   {"data":{"name":"bandtext"},"transform":[{"filter":"datum.p=='BR'&&datum.k=='BO'"}],"mark":{"type":"text","fontWeight":"bold","fontSize":9.5,"align":"center","baseline":"alphabetic","color":"#b3458f"},"encoding":{"x":{"field":"w","type":"quantitative"},"y":{"field":"v","type":"quantitative"},"text":{"field":"t"}}},
   {"data":{"name":"bandtext"},"transform":[{"filter":"datum.p=='BR'&&datum.k=='CH'"}],"mark":{"type":"text","fontWeight":"bold","fontSize":9.5,"align":"center","baseline":"alphabetic","color":"#1d1d5e"},"encoding":{"x":{"field":"w","type":"quantitative"},"y":{"field":"v","type":"quantitative"},"text":{"field":"t"}}},
   {"data":{"name":"bandtext"},"transform":[{"filter":"datum.p=='BR'&&datum.k=='TiO'"}],"mark":{"type":"text","fontWeight":"bold","fontSize":9.5,"lineBreak":"\n","lineHeight":14,"align":"right","baseline":"alphabetic","color":"#c0622a"},"encoding":{"x":{"field":"w","type":"quantitative"},"y":{"field":"v","type":"quantitative"},"text":{"field":"t"}}},
   {"data":{"values":[{}]},"mark":{"type":"rule","color":"#8c8c8c"},"encoding":{"x":{"value":0},"x2":{"value":"width"},"y":{"value":0}}},
   {"data":{"values":[{}]},"mark":{"type":"rule","color":"#8c8c8c"},"encoding":{"x":{"value":"width"},"y":{"value":0},"y2":{"value":"height"}}},
   {"data":{"values":[{}]},"mark":{"type":"rule","color":"#8c8c8c","yOffset":-4,"y2Offset":4},"encoding":{"x":{"value":0},"y":{"value":"height"},"y2":{"value":"height"}}},
   {"data":{"values":[{}]},"mark":{"type":"rule","color":"#8c8c8c","y2Offset":5},"encoding":{"x":{"value":0},"y":{"value":0},"y2":{"value":0}}}
  ]}
 ],"spacing":7,"bounds":"flush","resolve":{"scale":{"stroke":"independent"}}}
],"spacing":0,"resolve":{"scale":{"stroke":"independent"}}}
],"spacing":0,"resolve":{"scale":{"stroke":"independent"}}
}
